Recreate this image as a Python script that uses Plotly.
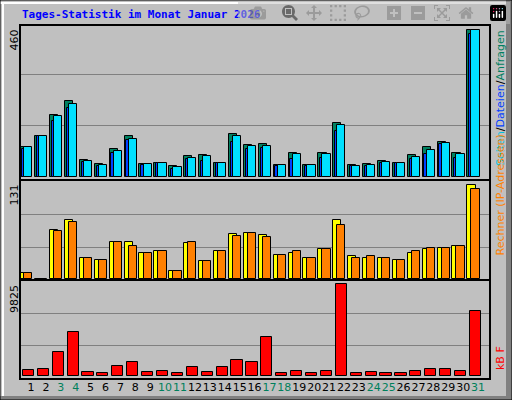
import plotly.graph_objects as go

days = list(range(1, 32))
day_labels = [str(d) for d in days]
weekend = [3, 4, 10, 11, 17, 18, 24, 25, 31]

anfragen = [92,128,194,235,54,41,88,128,41,45,35,64,69,45,135,100,104,38,76,38,76,169,38,41,51,45,69,94,110,76,458]
dateien  = [86,128,173,214,46,35,74,116,38,43,26,57,51,42,110,88,91,33,57,33,60,144,33,33,45,42,57,73,102,60,445]
seiten   = [92,128,188,228,51,38,82,119,41,45,32,60,66,45,128,97,97,38,73,38,73,163,35,38,48,45,63,85,107,73,458]

besuche  = [9,1,69,82,29,27,52,52,37,39,11,50,26,39,63,65,62,34,37,29,42,82,32,30,30,27,36,42,43,46,131]
rechner  = [9,1,67,79,29,27,52,46,37,39,11,52,26,39,60,65,59,34,39,29,42,75,30,32,30,27,39,43,44,46,125]

kbytes = [573,681,2508,4658,358,251,1003,1433,358,466,251,896,358,896,1648,1433,4120,251,466,251,466,9825,251,358,251,251,466,681,681,466,6915]

W, H = 512, 400
def px(x): return x / W
def py(y): return 1 - y / H

fig = go.Figure()
line = dict(color="black", width=1)
fig.add_bar(x=days, y=anfragen, width=0.55, offset=-0.72, marker=dict(color="#008060", line=line), xaxis="x", yaxis="y")
fig.add_bar(x=days, y=dateien, width=0.55, offset=-0.6, marker=dict(color="#0040FF", line=line), xaxis="x", yaxis="y")
fig.add_bar(x=days, y=seiten, width=0.55, offset=-0.45, marker=dict(color="#00E0FF", line=line), xaxis="x", yaxis="y")
fig.add_bar(x=days, y=besuche, width=0.55, offset=-0.72, marker=dict(color="#FFFF00", line=line), xaxis="x2", yaxis="y2")
fig.add_bar(x=days, y=rechner, width=0.55, offset=-0.45, marker=dict(color="#FF8000", line=line), xaxis="x2", yaxis="y2")
fig.add_bar(x=days, y=kbytes, width=0.75, offset=-0.55, marker=dict(color="#FF0000", line=line), xaxis="x3", yaxis="y3")

xr = [0.262, 31.8]
xd = [px(20), px(490)]
grid = dict(showgrid=True, gridcolor="#808080", gridwidth=1, showticklabels=False, zeroline=False, ticks="")
fig.update_layout(
    width=W, height=H, margin=dict(l=0, r=0, t=0, b=0, autoexpand=False),
    paper_bgcolor="#C0C0C0", plot_bgcolor="#C0C0C0",
    barmode="overlay", showlegend=False, bargap=0,
    xaxis=dict(domain=xd, range=xr, showticklabels=False, showgrid=False, zeroline=False, anchor="y"),
    xaxis2=dict(domain=xd, range=xr, showticklabels=False, showgrid=False, zeroline=False, anchor="y2"),
    xaxis3=dict(domain=xd, range=xr, showgrid=False, zeroline=False, anchor="y3", automargin=False,
                tickmode="array", tickvals=days, tickangle=0, ticklen=0, ticks="",
                ticktext=[f"<span style='color:#00805c'>{l}</span>" if d in weekend else l for d, l in zip(days, day_labels)],
                tickfont=dict(family="DejaVu Sans", size=11, color="black")),
    yaxis=dict(domain=[py(180), py(25)], range=[-9.3, 472], tickvals=[158.5, 317], **grid),
    yaxis2=dict(domain=[py(280), py(180)], range=[-1, 138], tickvals=[43.5, 90.5], **grid),
    yaxis3=dict(domain=[py(379), py(280)], range=[-355, 10287], tickvals=[3203, 6708], **grid),
)

shapes = [
    dict(type="rect", xref="paper", yref="paper", x0=px(20), x1=px(490), y0=py(379), y1=py(25), line=dict(color="black", width=2)),
    dict(type="line", xref="paper", yref="paper", x0=px(20), x1=px(490), y0=py(180), y1=py(180), line=dict(color="black", width=2)),
    dict(type="line", xref="paper", yref="paper", x0=px(20), x1=px(490), y0=py(280), y1=py(280), line=dict(color="black", width=2)),
    dict(type="rect", xref="paper", yref="paper", x0=px(506), x1=1, y0=0, y1=1, fillcolor="#808080", line=dict(width=0)),
    dict(type="rect", xref="paper", yref="paper", x0=0, x1=1, y0=0, y1=py(396), fillcolor="#808080", line=dict(width=0)),
    dict(type="line", xref="paper", yref="paper", x0=0, x1=px(506), y0=py(3), y1=py(3), line=dict(color="white", width=2)),
    dict(type="line", xref="paper", yref="paper", x0=px(3), x1=px(3), y0=py(396), y1=py(3), line=dict(color="white", width=2)),
    dict(type="rect", xref="paper", yref="paper", x0=0, x1=1, y0=0, y1=1, line=dict(color="black", width=1)),
]
fig.update_layout(shapes=shapes)

mono = "DejaVu Sans Mono"
ann = [
    dict(text="<b>Tages-Statistik im Monat Januar 2026</b>", x=px(20), y=py(14), xanchor="left", yanchor="middle",
         font=dict(family=mono, size=11, color="#0000FF")),
    dict(text="460", x=px(14), y=py(28), textangle=-90, xanchor="center", yanchor="top", font=dict(family="DejaVu Sans", size=11, color="black")),
    dict(text="131", x=px(14), y=py(183), textangle=-90, xanchor="center", yanchor="top", font=dict(family="DejaVu Sans", size=11, color="black")),
    dict(text="9825", x=px(14), y=py(283), textangle=-90, xanchor="center", yanchor="top", font=dict(family="DejaVu Sans", size=11, color="black")),
    dict(text="<span style='color:#00C0E0'>Seiten</span>/<span style='color:#0040FF'>Dateien</span>/<span style='color:#008060'>Anfragen</span>",
         x=px(500), y=py(28), textangle=-90, xanchor="center", yanchor="top", font=dict(family="DejaVu Sans", size=11, color="black")),
    dict(text="Rechner (IP-Adressen)", x=px(500), y=py(258), textangle=-90, xanchor="center", yanchor="bottom",
         font=dict(family="DejaVu Sans", size=11, color="#FF8000")),
    dict(text="kB F", x=px(500), y=py(372), textangle=-90, xanchor="center", yanchor="bottom",
         font=dict(family="DejaVu Sans", size=11, color="#FF0000")),
]
for a in ann:
    a.update(xref="paper", yref="paper", showarrow=False)
fig.update_layout(annotations=ann)

fig.write_html("out.html", post_script="document.body.style.margin='0';document.body.style.overflow='hidden';")
